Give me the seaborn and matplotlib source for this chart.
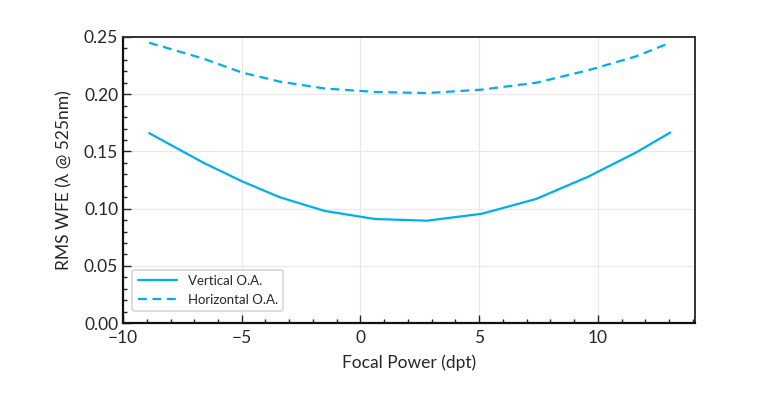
import numpy as np
import pandas as pd
import seaborn as sns
import matplotlib.pyplot as plt
from matplotlib.ticker import MultipleLocator

focal_power = [-8.9, -6.6, -5.0, -3.4, -1.5, 0.6, 2.8, 5.1, 7.4, 9.6, 11.6, 13.05]
vertical_oa = [0.166, 0.140, 0.124, 0.110, 0.098, 0.091, 0.0895, 0.0955, 0.1085, 0.128, 0.149, 0.1665]
horizontal_oa = [0.245, 0.231, 0.219, 0.211, 0.205, 0.202, 0.201, 0.204, 0.210, 0.221, 0.233, 0.245]

def main():
    df = pd.DataFrame({
        'focal': focal_power * 2,
        'wfe': vertical_oa + horizontal_oa,
        'series': ['Vertical O.A.'] * len(focal_power) + ['Horizontal O.A.'] * len(focal_power),
    })

    sns.set_style("white")
    plt.rcParams['font.family'] = ['Lato', 'DejaVu Sans']

    fig = plt.figure(figsize=(7.69, 3.96), dpi=100)
    ax = fig.add_axes([0.16, 0.184, 0.744, 0.7226])
    sns.lineplot(
        data=df, x='focal', y='wfe', style='series',
        dashes={'Vertical O.A.': '', 'Horizontal O.A.': (4, 2.5)},
        color='#00aeef', linewidth=1.6, ax=ax,
    )

    ax.set_xlim(-10, 14.1)
    ax.set_ylim(0, 0.25)
    ax.xaxis.set_major_locator(MultipleLocator(5))
    ax.xaxis.set_minor_locator(MultipleLocator(1))
    ax.yaxis.set_major_locator(MultipleLocator(0.05))
    ax.yaxis.set_minor_locator(MultipleLocator(0.01))
    ax.yaxis.set_major_formatter(plt.FormatStrFormatter('%.2f'))
    ax.tick_params(which='both', direction='in', top=False, right=False,
                   bottom=True, left=True, labelsize=12.5, color='#222222')
    ax.tick_params(which='major', length=6, width=1)
    ax.tick_params(which='minor', length=3, width=1)
    ax.tick_params(axis='x', pad=5)
    ax.grid(True, which='major', color='#e8e8e8', linewidth=0.8)
    for side in ['left', 'bottom']:
        ax.spines[side].set_linewidth(1.6)
        ax.spines[side].set_color('#111111')
    for side in ['top', 'right']:
        ax.spines[side].set_linewidth(1.4)
        ax.spines[side].set_color('#333333')

    ax.set_xlabel('Focal Power (dpt)', fontsize=12.5, labelpad=6)
    ax.set_ylabel('RMS WFE (λ @ 525nm)', fontsize=12.5, labelpad=8)
    leg = ax.legend(loc='lower left', fontsize=9.5, frameon=True, fancybox=True,
                    handlelength=3, borderpad=0.4, labelspacing=0.5,
                    bbox_to_anchor=(0.005, 0.02))
    leg.get_frame().set_edgecolor('#cccccc')
    leg.get_frame().set_linewidth(1.2)
    for line in leg.get_lines():
        line.set_linewidth(1.6)

    fig.savefig('out.png', dpi=100)

main()
